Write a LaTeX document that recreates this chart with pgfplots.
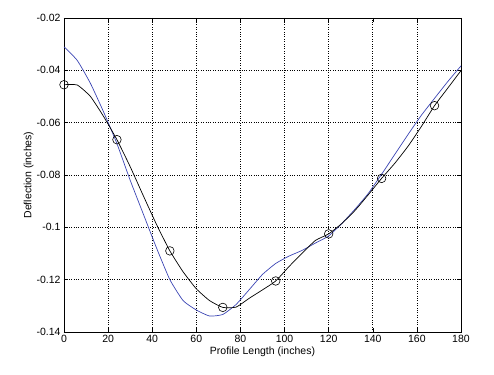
\documentclass[border=0pt]{standalone}
\usepackage{pgfplots}
\pgfplotsset{compat=1.18}
\usepackage{fontspec}
\setmainfont{Liberation Sans}
\definecolor{mblue}{RGB}{60,70,180}
\begin{document}
\begin{tikzpicture}
\begin{axis}[
  name=ax,
  scale only axis,
  width=397pt, height=314pt,
  xmin=0, xmax=180, ymin=-0.14, ymax=-0.02,
  xtick={0,20,...,180},
  ytick={-0.14,-0.12,-0.1,-0.08,-0.06,-0.04,-0.02},
  yticklabels={-0.14,-0.12,-0.1,-0.08,-0.06,-0.04,-0.02},
  xticklabels={0,20,40,60,80,100,120,140,160,180},
  tick align=inside,
  major tick length=4pt,
  tick style={black, line width=0.5pt},
  grid=major,
  grid style={black, dotted, line width=0.6pt},
  axis line style={black, line width=0.8pt},
  ticklabel style={font=\fontsize{10.5}{12}\selectfont},
  label style={font=\fontsize{10.5}{12}\selectfont},
  xlabel={Profile Length (inches)},
  ylabel={Deflection (inches)},
  xlabel style={yshift=3pt},
  ylabel style={yshift=-4pt},
  scaled y ticks=false,
]
\addplot[mblue, line width=0.7pt, smooth, tension=0.3] coordinates {
(0,-0.031) (6,-0.0362) (12,-0.045) (18,-0.056) (24,-0.068) (30,-0.082)
(36,-0.095) (42,-0.108) (48,-0.120) (54,-0.128) (60,-0.1316) (66,-0.1339)
(72,-0.1333) (78,-0.1295) (84,-0.1238) (90,-0.1180) (96,-0.1138) (102,-0.1110)
(108,-0.1088) (114,-0.1060) (120,-0.1033) (126,-0.0985) (132,-0.0930) (138,-0.0870)
(144,-0.0797) (150,-0.0721) (156,-0.0645) (162,-0.0572) (168,-0.0507) (174,-0.0443) (180,-0.0383)
};
\addplot[black, line width=0.7pt, smooth, tension=0.3] coordinates {
(0,-0.0455) (6,-0.0456) (12,-0.0500) (18,-0.0577) (24,-0.0665) (30,-0.0768)
(36,-0.0880) (42,-0.0990) (48,-0.1090) (54,-0.1170) (60,-0.1235) (66,-0.1280)
(72,-0.1306) (78,-0.1305) (84,-0.1271) (90,-0.1239) (96,-0.1205) (102,-0.1150)
(108,-0.1099) (114,-0.1050) (120,-0.1025) (126,-0.0985) (132,-0.0935) (138,-0.0875)
(144,-0.0813) (150,-0.0755) (156,-0.0690) (162,-0.0615) (168,-0.0535) (174,-0.0468) (180,-0.0401)
};
\addplot[black, only marks, mark=o, mark size=4.3pt, line width=0.6pt] coordinates {
(0,-0.0455) (24,-0.0665) (48,-0.1090) (72,-0.1306) (96,-0.1205) (120,-0.1025) (144,-0.0813) (168,-0.0535)
};
\end{axis}
\path (ax.south west) ++(-64pt,-42pt) coordinate (bl);
\path (ax.north east) ++(33pt,18pt) coordinate (tr);
\useasboundingbox (bl) rectangle (tr);
\end{tikzpicture}
\end{document}
